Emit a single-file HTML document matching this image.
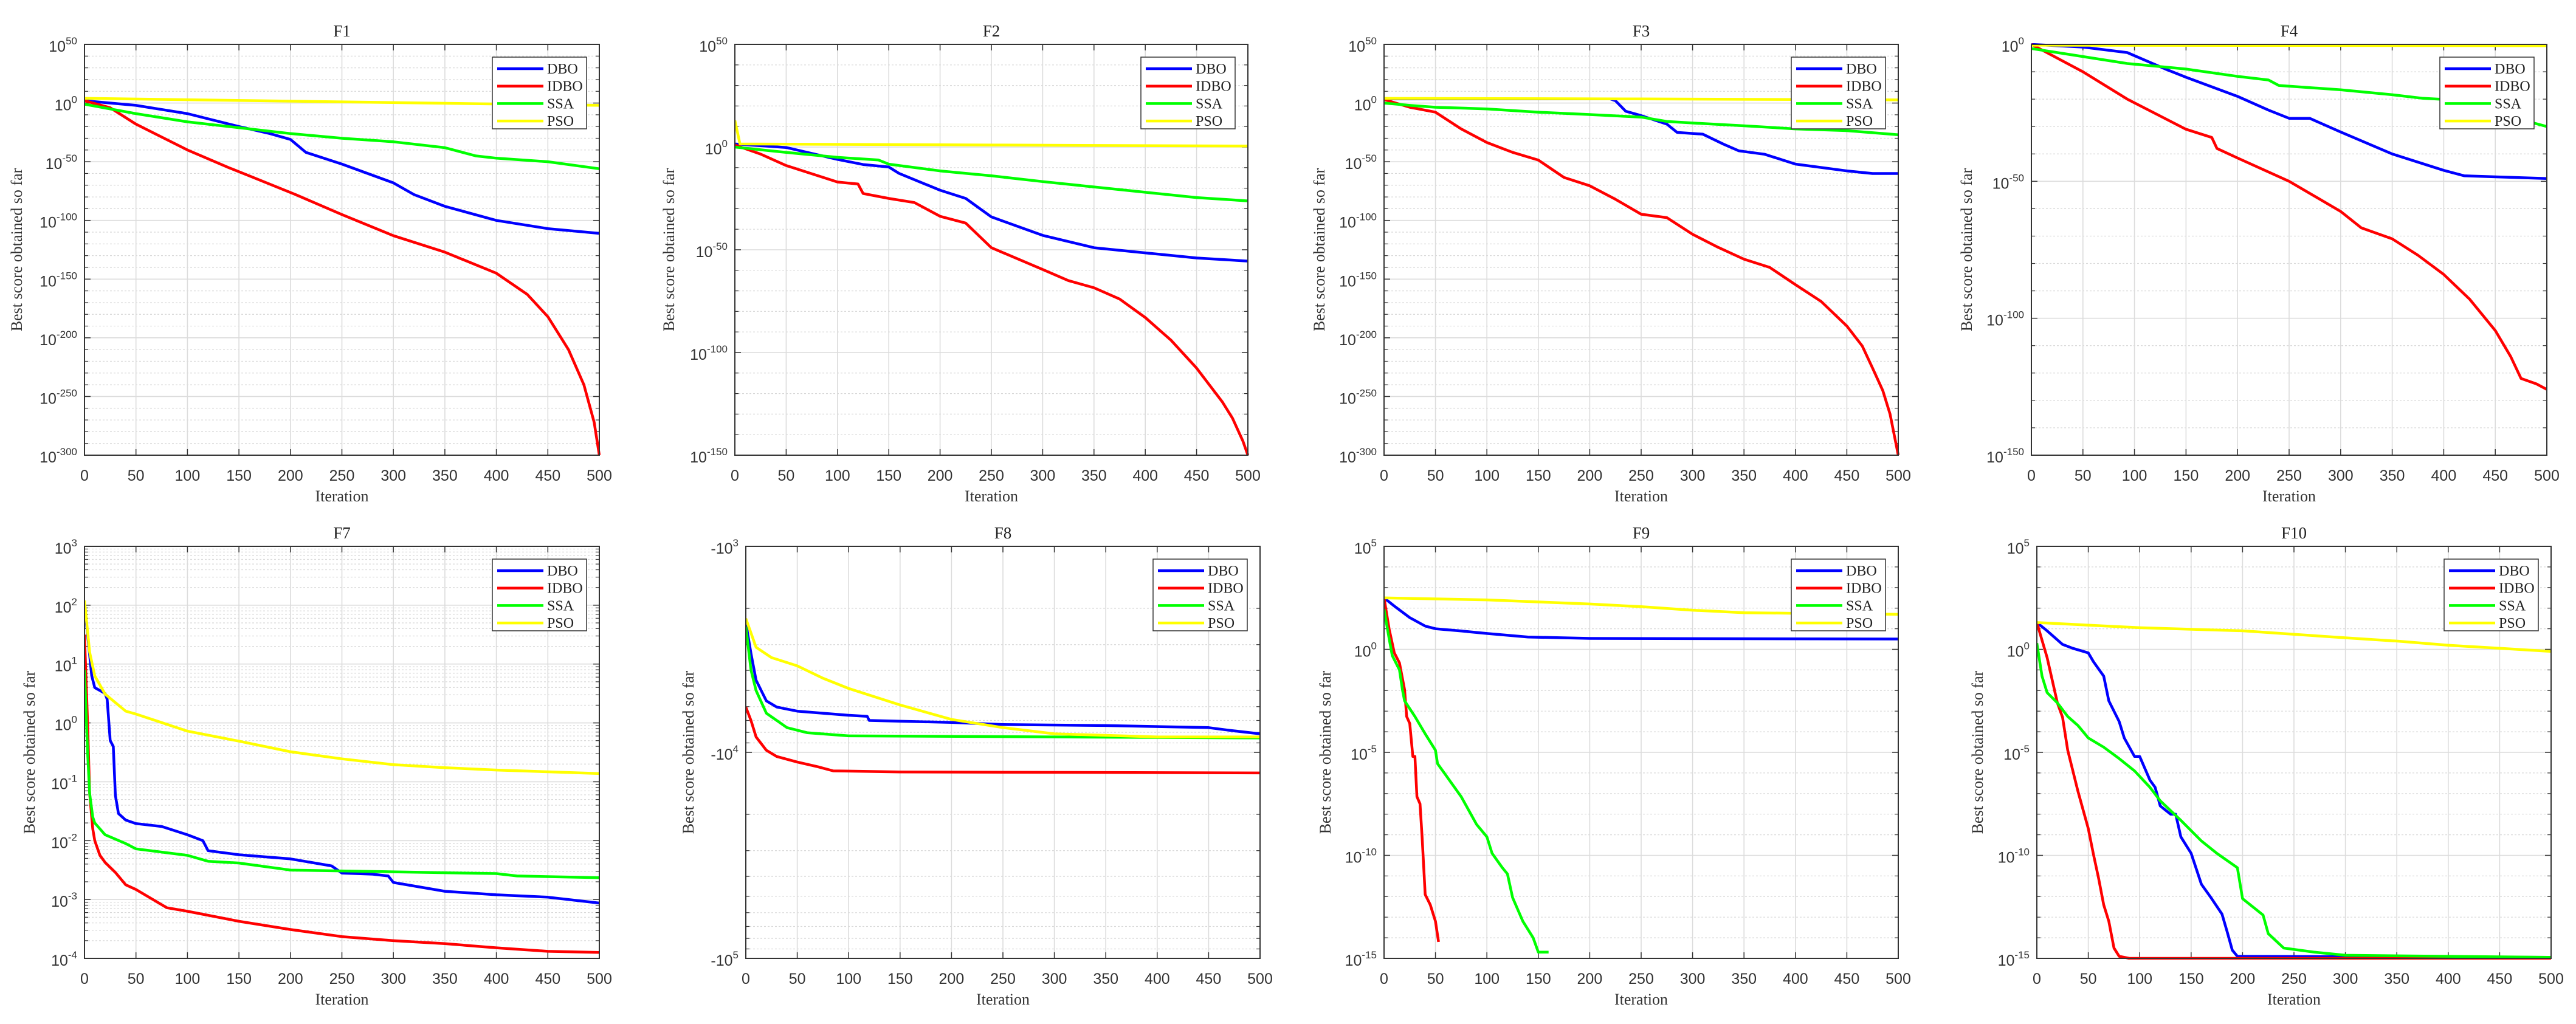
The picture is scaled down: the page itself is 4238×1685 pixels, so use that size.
<!DOCTYPE html>
<html><head><meta charset="utf-8">
<style>
html,body{margin:0;padding:0;background:#fff;}
svg{display:block;}
.tk{font-family:"Liberation Sans",sans-serif;font-size:25px;fill:#333;}
.sup{font-size:17px;}
.ttl{font-family:"Liberation Serif",serif;font-size:27px;fill:#222;}
.lab{font-family:"Liberation Serif",serif;font-size:26px;fill:#333;}
.leg{font-family:"Liberation Serif",serif;font-size:24px;fill:#222;}
</style></head>
<body>
<svg id="fig" width="4238" height="1685" viewBox="0 0 4238 1685" xmlns="http://www.w3.org/2000/svg"></svg>
<script>
// ---- data: [iteration, log10(score)] (F8: log10(|score|), negative values)
const algNames = ["DBO","IDBO","SSA","PSO"];
const algColors = ["#0000ff","#ff0000","#00ff00","#ffff00"];
const xTicks = [0,50,100,150,200,250,300,350,400,450,500];

const F1_DBO = [[0,2],[50,-2],[100,-9],[150,-20],[180,-26],[200,-31],[215,-42],[250,-52],[300,-68],[320,-78],[350,-88],[400,-100],[450,-107],[500,-111]];
const F1_IDBO = [[0,2],[25,-4],[50,-18],[100,-40],[140,-55],[160,-62],[205,-78],[250,-95],[300,-113],[350,-127],[400,-145],[430,-163],[450,-182],[470,-210],[485,-240],[495,-272],[500,-300]];
const F1_SSA = [[0,-1],[50,-9],[100,-16],[150,-21],[200,-26],[250,-30],[300,-33],[350,-38],[380,-45],[400,-47],[450,-50],[500,-56]];
const F1_PSO = [[0,4],[250,1],[500,-2]];

const F2_DBO = [[0,1.5],[50,-0.2],[100,-6],[125,-8.5],[150,-9.7],[160,-12.8],[200,-21],[225,-25],[250,-34],[300,-43],[350,-49],[400,-51.5],[450,-54],[500,-55.5]];
const F2_IDBO = [[0,1],[25,-3.4],[50,-9],[100,-17],[120,-18],[125,-22.6],[150,-25],[175,-27],[200,-33.7],[225,-37],[250,-49],[300,-59.6],[325,-65],[350,-68.5],[375,-74],[400,-83],[425,-94],[450,-107.6],[475,-124],[485,-132],[495,-143],[500,-150]];
const F2_SSA = [[0,0],[50,-2.6],[100,-5],[140,-6.3],[150,-8.3],[200,-11.6],[250,-14],[300,-16.8],[350,-19.4],[400,-22],[450,-24.6],[500,-26.2]];
const F2_PSO = [[0,13],[5,1.5],[250,1],[500,0.5]];

const F3_DBO = [[0,3.5],[220,3.5],[225,2],[235,-7],[250,-10.7],[275,-18],[285,-25],[310,-26.5],[330,-35],[345,-40.7],[370,-43.6],[400,-52],[450,-57.8],[475,-60],[500,-60]];
const F3_IDBO = [[0,3],[25,-3.6],[50,-7.8],[75,-22],[100,-33.6],[125,-42],[150,-48.6],[175,-63.4],[200,-70.5],[225,-82],[250,-94.7],[275,-97.6],[300,-111.8],[325,-123],[350,-133],[375,-140],[400,-154.7],[425,-169],[450,-190],[465,-207],[475,-225.8],[485,-245],[492,-265],[500,-300]];
const F3_SSA = [[0,0],[25,-2],[50,-3.6],[100,-5],[150,-7.8],[200,-9.8],[250,-12],[275,-15.7],[300,-17],[350,-19.4],[400,-22],[450,-23.5],[500,-27]];
const F3_PSO = [[0,4],[250,3.5],[500,2.7]];

const F4_DBO = [[0,0],[50,-1],[93,-3],[130,-9],[150,-12],[200,-19],[230,-24],[250,-27],[270,-27],[300,-32],[350,-40],[400,-46],[420,-48],[500,-49]];
const F4_IDBO = [[0,0],[50,-10],[93,-20],[150,-31],[175,-34],[180,-38],[200,-41.5],[250,-50],[300,-61],[320,-67],[350,-71],[375,-77],[400,-84],[425,-93],[450,-104.5],[465,-114],[475,-122],[490,-124],[500,-126]];
const F4_SSA = [[0,-1.5],[93,-7],[150,-9],[200,-11.7],[230,-13],[240,-15],[300,-16.6],[350,-18.4],[380,-19.7],[420,-20.5],[480,-28],[500,-30]];
const F4_PSO = [[0,-0.3],[500,-0.5]];

const F7_DBO = [[0,2],[3,1.5],[7,0.8],[10,0.6],[20,0.5],[22,0.4],[25,-0.3],[28,-0.4],[30,-1.23],[33,-1.54],[40,-1.65],[50,-1.71],[75,-1.76],[100,-1.9],[115,-2.0],[120,-2.17],[150,-2.24],[200,-2.31],[240,-2.43],[250,-2.55],[280,-2.57],[295,-2.6],[300,-2.71],[350,-2.86],[400,-2.92],[450,-2.96],[480,-3.02],[500,-3.06]];
const F7_IDBO = [[0,1.5],[3,0],[5,-1.2],[8,-1.8],[10,-2.0],[15,-2.25],[20,-2.37],[30,-2.54],[40,-2.75],[50,-2.83],[80,-3.14],[100,-3.2],[150,-3.37],[200,-3.51],[250,-3.63],[300,-3.7],[350,-3.75],[400,-3.82],[450,-3.88],[500,-3.9]];
const F7_SSA = [[0,0.9],[3,-0.5],[5,-1.2],[8,-1.6],[10,-1.7],[20,-1.9],[40,-2.05],[50,-2.14],[100,-2.25],[120,-2.35],[150,-2.38],[200,-2.5],[300,-2.53],[400,-2.56],[420,-2.6],[500,-2.63]];
const F7_PSO = [[0,2.08],[5,1.2],[10,0.8],[20,0.49],[40,0.2],[50,0.15],[100,-0.14],[150,-0.31],[200,-0.49],[250,-0.61],[300,-0.71],[350,-0.76],[400,-0.8],[450,-0.83],[500,-0.86]];

const F8_DBO = [[0,3.37],[5,3.52],[10,3.65],[20,3.75],[30,3.78],[50,3.8],[100,3.82],[118,3.825],[120,3.845],[200,3.855],[250,3.865],[350,3.87],[450,3.88],[470,3.893],[500,3.91]];
const F8_IDBO = [[0,3.78],[5,3.845],[10,3.925],[20,3.99],[30,4.02],[50,4.047],[70,4.07],[85,4.09],[150,4.095],[500,4.1]];
const F8_SSA = [[0,3.39],[5,3.6],[10,3.7],[20,3.81],[40,3.88],[60,3.905],[100,3.92],[500,3.93]];
const F8_PSO = [[0,3.35],[10,3.49],[25,3.54],[50,3.58],[75,3.64],[100,3.69],[150,3.77],[200,3.84],[250,3.88],[300,3.91],[400,3.925],[500,3.925]];

const F9_DBO = [[0,2.5],[10,2.1],[25,1.54],[40,1.13],[50,1.0],[75,0.89],[100,0.77],[140,0.6],[200,0.53],[500,0.5]];
const F9_IDBO = [[0,2.5],[5,0.97],[10,-0.17],[15,-0.66],[20,-1.96],[22,-3.26],[25,-3.6],[28,-5.2],[30,-5.2],[32,-7.15],[35,-7.5],[37,-9.1],[40,-11.9],[45,-12.4],[50,-13.2],[53,-14.2]];
const F9_SSA = [[0,1.95],[5,0.5],[8,-0.3],[15,-1],[18,-2],[20,-2.5],[30,-3.26],[40,-4.1],[50,-4.9],[52,-5.55],[60,-6.1],[75,-7.15],[90,-8.5],[100,-9.1],[105,-9.9],[115,-10.6],[120,-10.9],[125,-12.05],[135,-13.2],[145,-14],[150,-14.7],[160,-14.7]];
const F9_PSO = [[0,2.5],[100,2.4],[150,2.3],[200,2.2],[250,2.07],[300,1.9],[350,1.78],[400,1.75],[500,1.7]];

const F10_DBO = [[0,1.3],[10,0.9],[25,0.24],[35,0.05],[50,-0.17],[55,-0.6],[65,-1.3],[70,-2.5],[80,-3.5],[85,-4.3],[95,-5.2],[100,-5.2],[110,-6.35],[115,-6.7],[120,-7.6],[130,-8],[135,-8],[140,-9.1],[150,-9.9],[160,-11.4],[170,-12.1],[180,-12.85],[185,-13.7],[190,-14.6],[195,-14.9],[500,-14.95]];
const F10_IDBO = [[0,1.3],[10,-0.4],[20,-2.6],[25,-3.3],[30,-4.9],[40,-6.9],[50,-8.7],[55,-9.95],[60,-11.1],[65,-12.4],[70,-13.2],[75,-14.5],[80,-14.9],[90,-15],[500,-15]];
const F10_SSA = [[0,0.3],[5,-1.3],[10,-2.1],[20,-2.6],[30,-3.26],[40,-3.7],[50,-4.3],[65,-4.75],[80,-5.3],[95,-5.9],[110,-6.7],[120,-7.35],[140,-8.3],[160,-9.3],[175,-9.9],[195,-10.6],[200,-12.1],[215,-12.7],[220,-12.9],[225,-13.8],[240,-14.5],[270,-14.7],[300,-14.85],[500,-14.95]];
const F10_PSO = [[0,1.3],[100,1.05],[200,0.9],[300,0.56],[350,0.4],[400,0.2],[450,0.05],[500,-0.1]];

// ---- layout
const NS = "http://www.w3.org/2000/svg";
const fig = document.getElementById("fig");
function mk(tag, attrs, parent){
  const e = document.createElementNS(NS, tag);
  for (const k in attrs) e.setAttribute(k, attrs[k]);
  (parent||fig).appendChild(e);
  return e;
}
function range(a,b,s){const r=[];for(let v=a; s>0? v<=b+1e-9 : v>=b-1e-9; v+=s) r.push(Math.round(v*1000)/1000);return r;}
function logMinors(lo,hi){const r=[];for(let d=Math.floor(lo); d<hi; d++){for(let k=2;k<=9;k++){const v=d+Math.log10(k); if(v>lo&&v<hi) r.push(v);}}return r;}

const panels = [
 {id:"f1",title:"F1",L:139,T:73,W:847,H:676,ymax:50,ymin:-300,majors:range(50,-300,-50),minors:range(40,-290,-10),neg:false,series:[F1_DBO,F1_IDBO,F1_SSA,F1_PSO],ylx:-103},
 {id:"f2",title:"F2",L:1209,T:73,W:844,H:676,ymax:50,ymin:-150,majors:range(50,-150,-50),minors:range(40,-140,-10),neg:false,series:[F2_DBO,F2_IDBO,F2_SSA,F2_PSO],ylx:-100},
 {id:"f3",title:"F3",L:2277,T:73,W:846,H:676,ymax:50,ymin:-300,majors:range(50,-300,-50),minors:range(40,-290,-10),neg:false,series:[F3_DBO,F3_IDBO,F3_SSA,F3_PSO],ylx:-98},
 {id:"f4",title:"F4",L:3342,T:73,W:848,H:676,ymax:0,ymin:-150,majors:range(0,-150,-50),minors:range(-10,-140,-10),neg:false,series:[F4_DBO,F4_IDBO,F4_SSA,F4_PSO],ylx:-98},
 {id:"f7",title:"F7",L:139,T:899,W:847,H:678,ymax:3,ymin:-4,majors:range(3,-4,-1),minors:logMinors(-4,3),neg:false,series:[F7_DBO,F7_IDBO,F7_SSA,F7_PSO],ylx:-82},
 {id:"f8",title:"F8",L:1227,T:899,W:846,H:678,ymax:3,ymin:5,majors:[3,4,5],minors:logMinors(3,5),neg:true,series:[F8_DBO,F8_IDBO,F8_SSA,F8_PSO],ylx:-86},
 {id:"f9",title:"F9",L:2277,T:899,W:846,H:678,ymax:5,ymin:-15,majors:range(5,-15,-5),minors:range(4,-14,-1),neg:false,series:[F9_DBO,F9_IDBO,F9_SSA,F9_PSO],ylx:-88},
 {id:"f10",title:"F10",L:3351,T:899,W:846,H:678,ymax:5,ymin:-15,majors:range(5,-15,-5),minors:range(4,-14,-1),neg:false,series:[F10_DBO,F10_IDBO,F10_SSA,F10_PSO],ylx:-89}
];

const defs = mk("defs",{});

panels.forEach(p=>{
  const g = mk("g",{});
  
  
  const xs = v => p.L + v/500*p.W;
  const ys = v => p.T + (p.ymax - v)/(p.ymax - p.ymin)*p.H;
  const isMajor = v => p.majors.some(m=>Math.abs(m-v)<1e-6);

  mk("rect",{x:p.L,y:p.T,width:p.W,height:p.H,fill:"#fff"},g);
  p.minors.filter(v=>!isMajor(v)).forEach(v=>{
    const gl = mk("line",{x1:p.L,x2:p.L+p.W,y1:ys(v),y2:ys(v),stroke:"#d8d8d8","stroke-width":1.2,"stroke-dasharray":"3 3"},g);
    
    
    mk("line",{x1:p.L,x2:p.L+6,y1:ys(v),y2:ys(v),stroke:"#333","stroke-width":1.2},g);
    mk("line",{x1:p.L+p.W-6,x2:p.L+p.W,y1:ys(v),y2:ys(v),stroke:"#333","stroke-width":1.2},g);
  });
  p.majors.forEach(v=>{
    const y = ys(v);
    const gl = mk("line",{x1:p.L,x2:p.L+p.W,y1:y,y2:y,stroke:"#dcdcdc","stroke-width":1.6},g);
    
    
    mk("line",{x1:p.L,x2:p.L+10,y1:y,y2:y,stroke:"#333","stroke-width":1.5},g);
    mk("line",{x1:p.L+p.W-10,x2:p.L+p.W,y1:y,y2:y,stroke:"#333","stroke-width":1.5},g);
    const t = mk("text",{x:p.L-12,y:y+12,"text-anchor":"end",class:"tk"},g);
    
    
    const base = document.createElementNS(NS,"tspan");
    base.textContent = (p.neg?"-":"")+"10";
    t.appendChild(base);
    const sup = document.createElementNS(NS,"tspan");
    sup.setAttribute("class","sup");
    sup.setAttribute("dy","-12");
    sup.textContent = String(v);
    t.appendChild(sup);
  });
  xTicks.forEach(v=>{
    const x = xs(v);
    const gl = mk("line",{x1:x,x2:x,y1:p.T,y2:p.T+p.H,stroke:"#dcdcdc","stroke-width":1.6},g);
    
    
    mk("line",{x1:x,x2:x,y1:p.T+p.H-10,y2:p.T+p.H,stroke:"#333","stroke-width":1.5},g);
    mk("line",{x1:x,x2:x,y1:p.T,y2:p.T+10,stroke:"#333","stroke-width":1.5},g);
    const t = mk("text",{x:x,y:p.T+p.H+42,"text-anchor":"middle",class:"tk"},g);
    
    
    t.textContent = String(v);
  });
  const cp = mk("clipPath",{id:"clip-"+p.id},defs);
  mk("rect",{x:p.L,y:p.T-2,width:p.W+2,height:p.H+4},cp);
  p.series.forEach((s,i)=>{
    const d = s.map((pt,k)=>(k?"L":"M")+xs(pt[0]).toFixed(1)+" "+ys(pt[1]).toFixed(1)).join(" ");
    const path = mk("path",{d:d,fill:"none",stroke:algColors[i],"stroke-width":4.5,"stroke-linejoin":"round","clip-path":"url(#clip-"+p.id+")"},g);
    
    
  });
  const box = mk("rect",{x:p.L,y:p.T,width:p.W,height:p.H,fill:"none",stroke:"#333","stroke-width":2},g);
  
  
  const tt = mk("text",{x:p.L+p.W/2,y:p.T-13,"text-anchor":"middle",class:"ttl"},g);
  
  
  tt.textContent = p.title;
  const xl = mk("text",{x:p.L+p.W/2,y:p.T+p.H+76,"text-anchor":"middle",class:"lab"},g);
  
  
  xl.textContent = "Iteration";
  const cx = p.L+p.ylx, cy = p.T+p.H/2;
  const yl = mk("text",{x:cx,y:cy,"text-anchor":"middle",class:"lab",transform:"rotate(-90 "+cx+" "+cy+")"},g);
  
  
  yl.textContent = "Best score obtained so far";
  const lx = p.L+p.W-176, ly = p.T+21;
  const lg = mk("g",{},g);
  
  
  mk("rect",{x:lx,y:ly,width:155,height:118,fill:"#fff",stroke:"#333","stroke-width":1.5},lg);
  algNames.forEach((n,i)=>{
    const ey = ly+19+i*28.7;
    const ent = mk("g",{},lg);
    
    
    mk("line",{x1:lx+8,x2:lx+84,y1:ey,y2:ey,stroke:algColors[i],"stroke-width":4.5},ent);
    const lt = mk("text",{x:lx+90,y:ey+8,class:"leg"},ent);
    lt.textContent = n;
  });
});
</script>
</body></html>
